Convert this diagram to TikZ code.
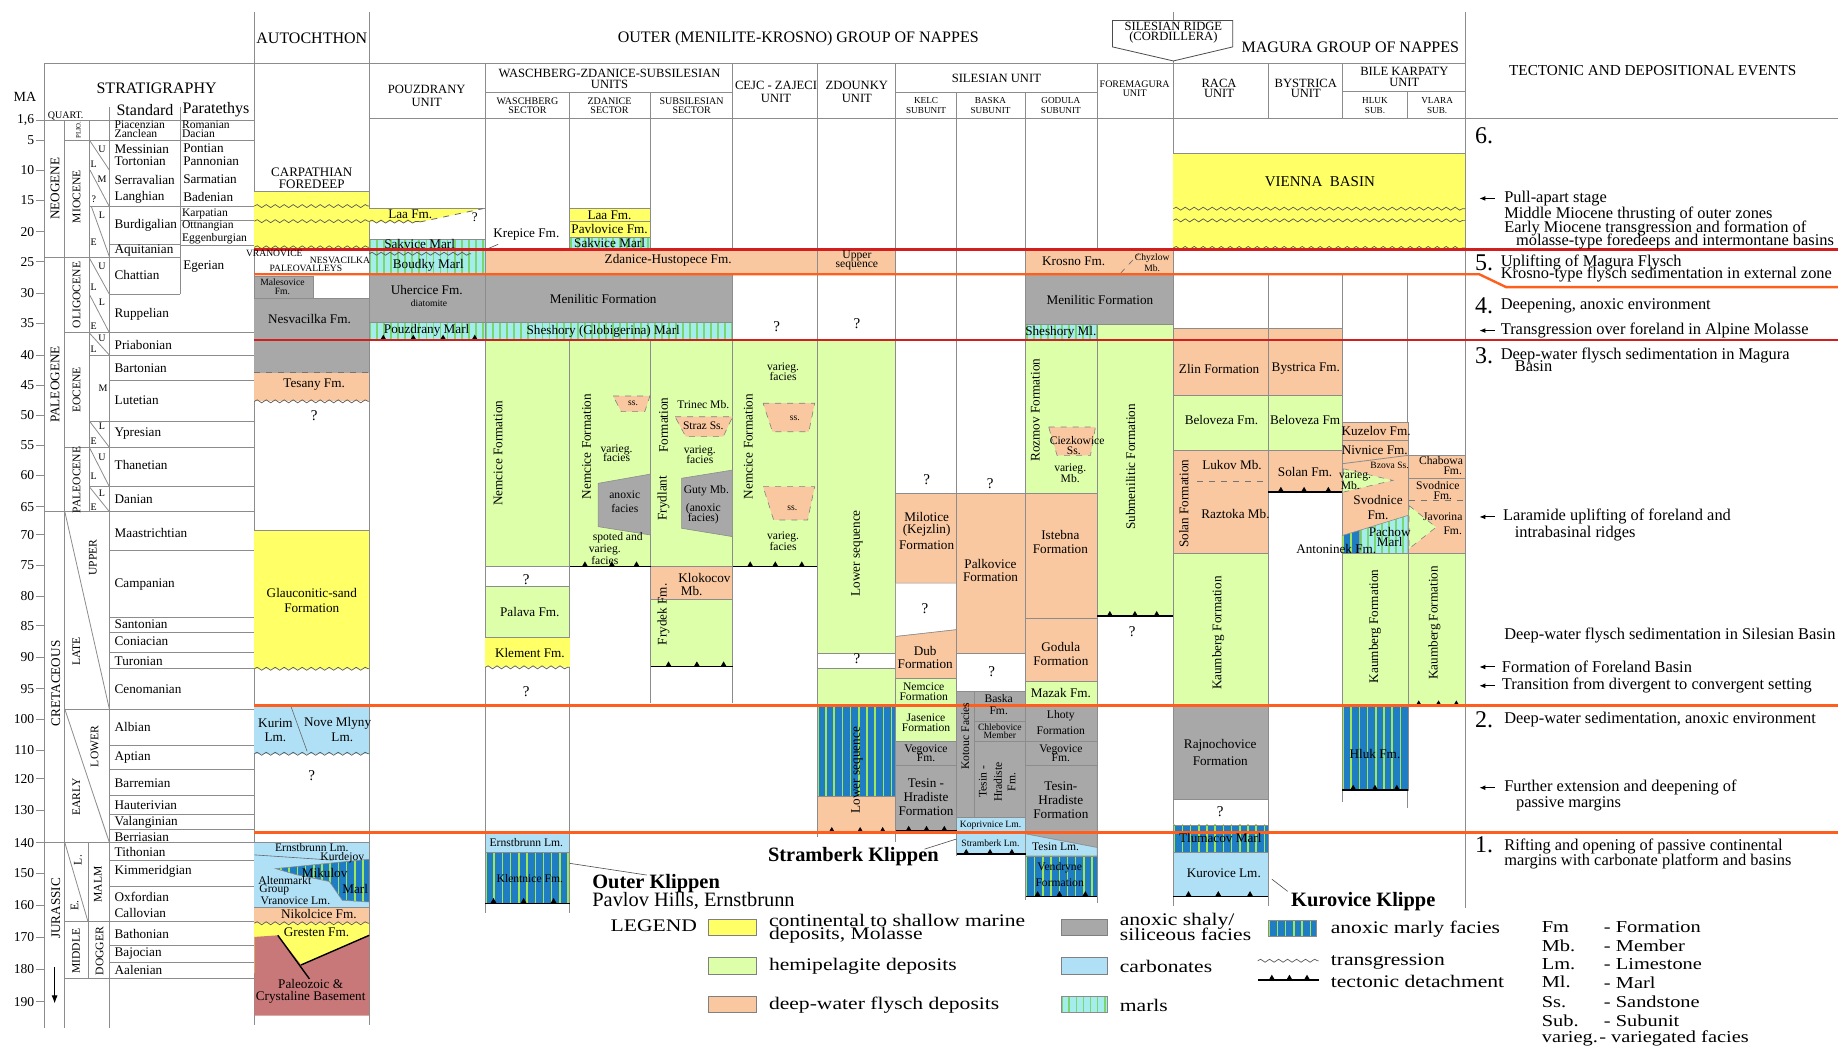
\documentclass[tikz,border=0pt]{standalone}
\usepackage{fontspec}
\setmainfont{Liberation Serif}
\usetikzlibrary{decorations.pathmorphing,arrows.meta}
\definecolor{cyel}{RGB}{255,255,102}
\definecolor{cgrn}{RGB}{222,255,170}
\definecolor{cpch}{RGB}{250,200,160}
\definecolor{cgry}{RGB}{168,168,168}
\definecolor{ccarb}{RGB}{176,224,245}
\definecolor{cmarl}{RGB}{165,236,236}
\definecolor{cmarlS}{RGB}{120,215,110}
\definecolor{canox}{RGB}{30,125,195}
\definecolor{canoxS}{RGB}{160,230,90}
\definecolor{cbase}{RGB}{200,120,120}
\definecolor{cred}{RGB}{210,30,30}
\definecolor{corg}{RGB}{255,95,30}
\definecolor{cline}{RGB}{140,140,140}
\newcommand\fA{\fontsize{6.6}{6.6}\selectfont}
\newcommand\fB{\fontsize{5.8}{5.8}\selectfont}
\newcommand\fC{\fontsize{4.8}{4.8}\selectfont}
\newcommand\fE{\fontsize{8.2}{8.2}\selectfont}
\newcommand\fH{\fontsize{8}{8}\selectfont}
\newcommand\fU{\fontsize{6.3}{6.3}\selectfont}
\newcommand\fS{\fontsize{5}{5}\selectfont}
\newcommand\fL{\fontsize{10.8}{10.8}\selectfont}
\newcommand\fM{\fontsize{10.2}{10.2}\selectfont}
\newcommand\fK{\fontsize{10.2}{10.2}\selectfont}
\newcommand\fN{\fontsize{12}{12}\selectfont}
\newcommand\sqz[1]{\scalebox{1}[0.82]{#1}}
\newcommand\mybx[5]{\filldraw[fill=#1,draw=cline,line width=0.3pt] (#2,#3) rectangle (#4,#5);}
\newcommand\mystrip[6]{\begin{scope}\clip #1; \fill[#2] #1; \foreach \xx in {0,#5,...,300}{\fill[#3] (#4+\xx,0) rectangle (#4+\xx+#6,900);}\end{scope}\draw[cline,line width=0.3pt] #1;}
\newcommand\mydet[4]{\draw[line width=0.8pt] (#1,#3) -- (#2,#3); \foreach \tx in {#4}{\fill (\tx-2.6,#3) -- (\tx,#3-4.5) -- (\tx+2.6,#3) -- cycle;}}
\tikzset{wavy/.style={decorate,decoration={snake,amplitude=0.75pt,segment length=4.5pt},draw=black!65,line width=0.35pt},
  tx/.style={inner sep=0pt,align=center,font=\fA},
  ev/.style={inner sep=0pt,anchor=west,font=\fE},
  sn/.style={inner sep=0pt,anchor=west,font=\fA},
  hd/.style={inner sep=0pt,align=center,font=\fU},
  lg/.style={inner sep=0pt,anchor=west,font=\fL},
  swatch/.style={draw=gray,line width=0.4pt},
  evarrow/.style={-{Latex[length=3pt,width=2.4pt]},line width=0.5pt}}
\newcommand\mywave[3]{\draw[wavy] (#1,#3) -- (#2,#3);}
\begin{document}
\begin{tikzpicture}[x=0.5861pt,y=-0.5861pt]
\useasboundingbox (0,0) rectangle (1568,894);
\fill[white] (0,0) rectangle (1568,894);

%% ---------------- header lines and column lines
\draw[cline,line width=0.4pt] (37.8,54) -- (1250,54);
\draw[cline,line width=0.4pt] (315,101) -- (1568,101);
\draw[cline,line width=0.4pt] (414,79) -- (625,79);
\draw[cline,line width=0.4pt] (764,79) -- (936,79);
\draw[cline,line width=0.4pt] (1145,78) -- (1250,78);
\foreach \cx/\ya/\yb in {217/10/874,315/10/874,414/54/779,486/79/779,555/79/600,625/54/600,697/54/714,764/54/718,816/79/730,875/79/768,936/54/770,1001/10/773,1082/234/773,1145/234/684,1201/234/689,1250/10/775,1082/54/101,1145/54/101,1201/78/101}
  \draw[cline,line width=0.4pt] (\cx,\ya) -- (\cx,\yb);

%% ---------------- stratigraphy column
\draw[cline] (37.8,54) -- (37.8,877);
\draw[cline] (55.3,102.4) -- (55.3,877);
\draw[cline] (76.2,102.4) -- (76.2,436.5);
\draw[cline] (75,718.8) -- (75,834.6);
\draw[cline] (93.3,91) -- (93.3,877);
\draw[cline] (153.5,91) -- (153.5,251.1);
\draw[cline] (31,102.4) -- (217,102.4);
\draw[cline] (55.3,119.4) -- (217,119.4);
\draw[cline] (76.2,176.3) -- (217,176.3);
\draw[cline] (93.3,208.4) -- (153.5,208.4);
\draw[cline] (153.5,187.7) -- (217,187.7);
\draw[cline] (153.5,209.6) -- (217,209.6);
\draw[cline] (37.8,219.8) -- (153.5,219.8);
\draw[cline] (93.3,251.1) -- (153.5,251.1);
\foreach \yy/\xa in {283.8/55.3,302.9/76.2,324.7/93.3,359.1/76.2,381.6/55.3,415.2/76.2,436.5/37.8,469.2/93.3,526.4/93.3,539.3/93.3,556.9/93.3,570.6/93.3,604.9/55.3,635.9/93.3,656.2/93.3,678.6/93.3,695/93.3,707.8/93.3,718.8/37.8,733.8/93.3,756.1/93.3,786/55.3,806.8/93.3,820.9/93.3,834.6/55.3}
  \draw[cline] (\xa,\yy) -- (217,\yy);
% sub-epoch diagonals
\foreach \xa/\ya/\xb/\yb in {76.8/120.3/93.3/145.1,76.8/145.1/93.3/176.3,78/176.3/93.3/219,76.2/220/93.3/251,76.2/251/93.3/283.8,76.2/284/93.3/302.9,76.2/359.1/93.3/381.6,76.2/381.6/93.3/415.2,76.2/415.2/93.3/436.5,55.3/436.5/93.3/604.9,55.3/604.9/93.3/718.8,55.3/718.8/75/786}
  \draw[cline] (\xa,\ya) -- (\xb,\yb);
\foreach \lt/\xx/\yy in {U/87/127,L/80/140,M/87/153,?/80/170,L/87/184,E/80/207,U/87/227,L/80/245,L/87/258,E/80/278,U/87/289,L/80/298,M/88/331,L/87/364,E/80/376,U/87/390,L/80/406,L/87/421,E/80/433}
  \node[inner sep=0pt,font=\fS] at (\xx,\yy) {\lt};
% era / epoch labels
\node[tx,rotate=90,font=\fA] at (46.9,161) {NEOGENE};
\node[tx,rotate=90,font=\fA] at (46.9,328) {PALEOGENE};
\node[tx,rotate=90,font=\fA] at (47.6,583) {CRETACEOUS};
\node[tx,rotate=90,font=\fA] at (47.6,775) {JURASSIC};
\node[tx,rotate=90,font=\fB] at (65.4,167.8) {MIOCENE};
\node[tx,rotate=90,font=\fB] at (65.4,251.7) {OLIGOCENE};
\node[tx,rotate=90,font=\fB] at (65.4,332.7) {EOCENE};
\node[tx,rotate=90,font=\fB] at (65.4,409.5) {PALEOCENE};
\node[tx,rotate=90,font=\fontsize{3.4}{3.4}\selectfont] at (67,111) {PLIO.};
\node[tx,rotate=90,font=\fB] at (79.3,475.7) {UPPER};
\node[tx,rotate=90,font=\fB] at (65,556) {LATE};
\node[tx,rotate=90,font=\fB] at (80.7,636.8) {LOWER};
\node[tx,rotate=90,font=\fB] at (65,680) {EARLY};
\node[tx,rotate=90,font=\fB] at (66.5,733.7) {L.};
\node[tx,rotate=90,font=\fB] at (63.6,772.5) {E.};
\node[tx,rotate=90,font=\fB] at (65,811.3) {MIDDLE};
\node[tx,rotate=90,font=\fB] at (83.5,754.6) {MALM};
\node[tx,rotate=90,font=\fB] at (85,811.3) {DOGGER};
\draw[-{Latex[length=4pt,width=3pt]},line width=0.4pt] (46.6,825) -- (46.6,856);
% header of strat
\node[inner sep=0pt,font=\fontsize{7}{7}\selectfont] at (21.3,82.5) {MA};
\node[inner sep=0pt,font=\fH] at (133.6,75.4) {STRATIGRAPHY};
\node[inner sep=0pt,font=\fH] at (123.7,93.8) {Standard};
\node[inner sep=0pt,font=\fH] at (184.3,93.8) {Paratethys};
\node[inner sep=0pt,font=\fontsize{5}{5}\selectfont] at (56,99) {QUART.};
% ticks
\draw[cline] (31,102.4) -- (37.8,102.4);
\node[anchor=east,inner sep=0pt,font=\fontsize{6.8}{6.8}\selectfont] at (29.5,102.4) {1,6};
\foreach \lab/\yy in {5/119.4,10/145,15/170.6,20/197.6,25/223.2,30/250.2,35/275.8,40/302.8,45/328.4,50/354,55/379.6,60/405.2,65/432.2,70/456.3,75/482.3,80/508.5,85/533.9,90/560.7,95/587.6,100/613.8,110/639.8,120/664.2,130/691.4,140/718.8,150/745.1,160/772.5,170/799.4,180/827.1,190/854.6}
  {\draw[cline] (31,\yy) -- (37.8,\yy); \node[anchor=east,inner sep=0pt,font=\fontsize{6.8}{6.8}\selectfont] at (29.5,\yy) {\lab};}
% stage names
\foreach \nm/\yy in {Messinian/127.4,Tortonian/137.9,Serravalian/153.6,Langhian/168.3,Burdigalian/192.5,Aquitanian/214.1,Chattian/234.6,Ruppelian/268.2,Priabonian/294.3,Bartonian/314.2,Lutetian/341.2,Ypresian/369.7,Thanetian/396.7,Danian/426,Maastrichtian/454.8,Campanian/499,Santonian/532.4,Coniacian/547.3,Turonian/563.7,Cenomanian/587.6,Albian/619.8,Aptian/646.3,Barremian/668.1,Hauterivian/686.6,Valanginian/701.5,Berriasian/714.4,Tithonian/726.9,Kimmeridgian/743.3,Oxfordian/765,Callovian/779.1,Bathonian/796.4,Bajocian/813.7,Aalenian/827.7}
  \node[sn] at (97.5,\yy) {\nm};
\foreach \nm/\yy in {Piacenzian/106.6,Zanclean/113.8}
  \node[sn,font=\fB] at (97.5,\yy) {\nm};
\foreach \nm/\yy in {Pontian/126.5,Pannonian/137.9,Sarmatian/152.7,Badenian/168.3,Egerian/227.5}
  \node[sn] at (156,\yy) {\nm};
\foreach \nm/\yy in {Romanian/106.6,Dacian/113.8,Karpatian/182.9,Ottnangian/192.5,Eggenburgian/203.3}
  \node[sn,font=\fB] at (155,\yy) {\nm};

%% ---------------- AUTOCHTHON
\fill[cyel] (217,163) rectangle (315,211.5); \draw[cline] (217,163) -- (315,163);
\mywave{217}{315}{175.8}\mywave{217}{315}{188.7}\mywave{217}{315}{211}
\mybx{cgry}{217}{235.6}{267}{254.7}
\fill[cgry] (217,254.7) rectangle (315,318); \draw[cline] (217,254.7) -- (315,254.7);
\draw[dashed,black!55] (217,318) -- (315,318);
\fill[cpch] (217,318) rectangle (315,342.4); \mywave{217}{315}{342.4}
\fill[cyel] (217,452.4) rectangle (315,570.5); \draw[cline] (217,452.4) -- (315,452.4); \mywave{217}{315}{570.5}
\fill[ccarb] (217,602) rectangle (315,643); \mywave{217}{315}{643}
\draw[black!60,line width=0.3pt] (248,602) -- (262,641);
\fill[ccarb] (217,718.8) rectangle (315,774); \draw[cline] (217,718.8) -- (315,718.8);
\mystrip{(235,741) -- (315,733) -- (315,769.5) -- (292,768) -- (281,752) -- (252,746) -- cycle}{canox}{canoxS}{232}{7}{1.3}
\draw[black!60,line width=0.3pt] (217,729.3) -- (284,733.8);
\fill[cpch] (217,774) rectangle (315,787.6); \draw[cline] (217,774) -- (315,774);
\fill[cyel] (217,787.6) rectangle (315,830);
\mywave{217}{315}{787.6}
\fill[cbase] (217,799.3) -- (237,797.9) -- (257,823.2) -- (315,797.9) -- (315,866.5) -- (217,866.5) -- cycle;
\draw[line width=0.7pt] (237,797.9) -- (264,835.1);
\draw[line width=0.7pt] (256.8,823.2) -- (315,797.9);

%% ---------------- POUZDRANY
\fill[cyel] (315,178) -- (412,178) -- (358,189.4) -- (315,189.4) -- cycle;
\draw[cline] (315,178) -- (414,178);
\draw[dashed,black!60] (358,189.4) -- (412,178);
\mywave{315}{358}{189}
\mystrip{(315,204) rectangle (414,212.5)}{cmarl}{cmarlS}{315}{6}{1.6}
\mystrip{(315,212.5) rectangle (414,234)}{cmarl}{cmarlS}{315}{6}{1.6}
\mywave{315}{402}{216.5}
\mybx{cgry}{315}{234}{414}{275}
\mystrip{(315,275) rectangle (414,290)}{cmarl}{cmarlS}{315}{6}{1.6}

%% ---------------- WASCHBERG-ZDANICE-SUBSILESIAN, CEJC, ZDOUNKY
\mybx{cyel}{486}{177.7}{555}{189}
\mybx{cyel}{486}{189}{555}{202.4}
\mystrip{(486,202.4) rectangle (555,212.5)}{cmarl}{cmarlS}{486}{6}{1.6}
\mybx{cpch}{414}{212.5}{697}{234}
\mybx{cpch}{697}{212.5}{764}{234}
\mybx{cgry}{414}{234}{625}{275}
\mystrip{(414,275) rectangle (625,290)}{cmarl}{cmarlS}{414}{6}{1.6}
\mybx{cgrn}{414}{290}{486}{483.4}
\mybx{cgrn}{486}{290}{555}{483.4}
\mybx{cgrn}{555}{290}{625}{483.4}
\mybx{cgrn}{625}{290}{697}{483.4}
\mybx{cgrn}{697}{290}{764}{557.3}
\mybx{cgrn}{697}{570}{764}{602}
\mystrip{(697,602) rectangle (764,679.6)}{canox}{canoxS}{697}{7}{1.3}
\mybx{cpch}{697}{679.6}{764}{710}
% sandstone lenses and anoxic facies
\filldraw[fill=cpch,draw=gray,dashed,line width=0.3pt] (523,337.8) -- (554.5,337.8) -- (550,351.2) -- (530,351.2) -- cycle;
\filldraw[fill=cgry,draw=cline,line width=0.3pt] (510.4,412.3) -- (555,404.4) -- (555,456.4) -- (510.4,449.3) -- cycle;
\filldraw[fill=cpch,draw=gray,dashed,line width=0.3pt] (575.9,355.5) -- (625,355.5) -- (617,372.5) -- (585,372.5) -- cycle;
\filldraw[fill=cgry,draw=cline,line width=0.3pt] (581.5,408) -- (625,401) -- (625,457.8) -- (581.5,450.7) -- cycle;
\filldraw[fill=cpch,draw=gray,dashed,line width=0.3pt] (651,344) -- (695,344) -- (690,368.3) -- (659,368.3) -- cycle;
\filldraw[fill=cpch,draw=gray,dashed,line width=0.3pt] (651,415.2) -- (695,415.2) -- (689,443.6) -- (660,443.6) -- cycle;
% waschberg lower
\mybx{cgrn}{414}{500.5}{486}{543.7}
\fill[cyel] (414,543.7) rectangle (486,569.3); \draw[cline] (414,543.7) -- (486,543.7); \mywave{414}{486}{569.3}
\mybx{cpch}{555}{483.4}{625}{511.3}
\mybx{cgrn}{555}{511.3}{625}{568.7}
% Outer klippen
\mybx{ccarb}{414}{711}{486}{727.4}
\mystrip{(414,727.4) rectangle (486,770.6)}{canox}{canoxS}{414}{7}{1.3}

%% ---------------- SILESIAN
% Kelc
\mybx{cpch}{764}{421}{816}{497.5}
\filldraw[fill=white,draw=cline,line width=0.3pt] (764,497.5) -- (816,497.5) -- (816,537.2) -- (764,543) -- cycle;
\filldraw[fill=cpch,draw=cline,line width=0.3pt] (764,543) -- (816,537.2) -- (816,579) -- (764,579) -- cycle;
\mybx{cgrn}{764}{579}{816}{602}
\mybx{cgrn}{764}{602}{816}{632.2}
\mybx{cgry}{764}{632.2}{816}{653}
\mybx{cgry}{764}{653}{816}{709}
% Baska
\mybx{cpch}{816}{421}{875}{557.4}
\mybx{white}{816}{557.4}{875}{589.6}
\mybx{cgry}{816}{589.6}{831}{697}
\mybx{cgry}{831}{589.6}{875}{615}
\mybx{cgry}{831}{615}{875}{632}
\mybx{cgry}{831}{632}{875}{697}
\mybx{ccarb}{816}{697}{875}{710}
\mybx{ccarb}{816}{710}{875}{728.7}
% Godula + Foremagura
\mybx{cpch}{875}{212.5}{1001}{234}
\draw[dashed,black!60,line width=0.3pt] (956,233) -- (971.6,216.4);
\mybx{cgry}{875}{234}{1001}{276.7}
\mystrip{(875,276.7) rectangle (936,290)}{cmarl}{cmarlS}{875}{6}{1.6}
\mybx{cgrn}{875}{290}{936}{421.2}
\mybx{cgrn}{936}{276.7}{1001}{525.7}
\filldraw[fill=cpch,draw=gray,dashed,line width=0.3pt] (894.6,364.3) -- (934.5,364.3) -- (930.3,388.5) -- (901.8,388.5) -- cycle;
\mybx{cpch}{875}{421.2}{936}{527.1}
\mybx{cpch}{875}{527.1}{936}{581}
\mybx{cgrn}{875}{581}{936}{602}
\mybx{cgry}{875}{602}{936}{632.2}
\mybx{cgry}{875}{632.2}{936}{653}
\filldraw[fill=cgry,draw=cline,line width=0.3pt] (875,653) -- (936,653) -- (936,723) -- (875,711.4) -- cycle;
\filldraw[fill=ccarb,draw=cline,line width=0.3pt] (875,711.4) -- (936,723) -- (936,730.2) -- (875,730.2) -- cycle;
\mystrip{(875,730.2) rectangle (936,764.7)}{canox}{canoxS}{875}{7}{1.3}

%% ---------------- MAGURA
\fill[cyel] (1001,131) rectangle (1250,212.5); \draw[cline] (1001,131) -- (1250,131);
\mywave{1001}{1250}{178}\mywave{1001}{1250}{188}\mywave{1001}{1250}{211.5}
\mybx{cpch}{1001}{280.4}{1082}{337.3}
\mybx{cpch}{1082}{280.4}{1145}{337.3}
\mybx{cgrn}{1001}{337.3}{1082}{384.2}
\mybx{cgrn}{1082}{337.3}{1145}{384.2}
\mybx{cpch}{1001}{384.2}{1082}{472.4}
\draw[dashed,black!55,line width=0.3pt] (1021.4,410.6) -- (1082,410.6);
\mybx{cpch}{1082}{384.2}{1145}{419.8}
\mybx{cgrn}{1001}{472.4}{1082}{602}
\mybx{cgry}{1001}{602}{1082}{681.8}
\mybx{white}{1001}{681.8}{1082}{703.7}
\mystrip{(1001,703.7) rectangle (1082,726.7)}{canox}{canoxS}{1001}{7}{1.3}
\mybx{ccarb}{1001}{726.7}{1082}{764.7}
% Hluk
\mybx{cpch}{1145}{360}{1201}{472.4}
\draw[cline] (1145,375.7) -- (1201,375.7);
\draw[cline] (1145,395.6) -- (1201,388.5);
\filldraw[fill=cgrn,draw=gray,dashed,line width=0.3pt] (1145.9,399.9) -- (1188.3,409.8) -- (1145.9,419.8) -- cycle;
\mystrip{(1160,452.4) -- (1201,439.7) -- (1201,472.4) -- (1160,472.4) -- cycle}{cmarl}{cmarlS}{1160}{6}{1.6}
\mystrip{(1145,456.9) -- (1160,452.4) -- (1160,472.4) -- (1145,472.4) -- cycle}{canox}{canoxS}{1145}{7}{1.3}
\mybx{cgrn}{1145}{472.4}{1201}{602}
\mystrip{(1145,602) rectangle (1201,674)}{canox}{canoxS}{1145}{7}{1.3}
% Vlara
\mybx{cpch}{1201}{388.5}{1250}{472.4}
\draw[cline] (1201,408.4) -- (1250,408.4);
\draw[dashed,black!55,line width=0.3pt] (1202,426.9) -- (1250,426.9);
\filldraw[fill=cgrn,draw=gray,dashed,line width=0.3pt] (1202,431.3) -- (1225.1,449.8) -- (1202,468.1) -- cycle;
\mybx{cgrn}{1201}{472.4}{1250}{602}

%% ---------------- tectonic detachments
\mydet{315}{414}{290}{327,352.6,378,405}
\mydet{486}{555}{483.4}{499,522,543}
\mydet{625}{697}{483.4}{640,661.4,684}
\mydet{555}{625}{568.7}{570.3,594.5,617.3}
\mydet{414}{486}{770.6}{421,446.7,472.3}
\mydet{697}{764}{710}{709.6,733.8,753}
\mydet{764}{816}{709}{775.2,790.4,805.6}
\mydet{816}{875}{728.7}{824.3,844.6,863.2}
\mydet{875}{936}{764.7}{885.2,903.8,925.9}
\mydet{936}{1001}{525.7}{946.8,968.2,986.8}
\mydet{1001}{1082}{764.7}{1013.9,1039.3,1066.4}
\mydet{1082}{1145}{419.8}{1092.7,1112.5,1133.2}
\mydet{1145}{1201}{674}{1154.4,1173,1191.6}
\mydet{1201}{1250}{602}{1210.3,1227.2,1242.4}

%% ---------------- event boundary lines
\draw[cred,line width=1.2pt] (217,213) -- (1568,213);
\draw[corg,line width=1.2pt] (217,234) -- (1262,234) -- (1285,245) -- (1568,245);
\draw[cred,line width=1.2pt] (217,290) -- (1568,290);
\draw[corg,line width=1.3pt] (217,602) -- (1568,602);
\draw[corg,line width=1.3pt] (217,710) -- (1568,710);

%% ---------------- headers
\filldraw[fill=white,draw=black!70,line width=0.4pt] (949,17.5) -- (1051.7,17.5) -- (1051.7,40) -- (1001,52) -- (949,40) -- cycle;
\node[hd] at (1001,22.5) {SILESIAN RIDGE};
\node[hd] at (1001,32) {(CORDILLERA)};
\node[inner sep=0pt,font=\fH] at (266,33) {AUTOCHTHON};
\node[inner sep=0pt,font=\fH] at (681,33) {OUTER (MENILITE-KROSNO) GROUP OF NAPPES};
\node[inner sep=0pt,font=\fH] at (1152,40) {MAGURA GROUP OF NAPPES};
\node[inner sep=0pt,font=\fontsize{7.6}{7.6}\selectfont] at (1410,60) {TECTONIC AND DEPOSITIONAL EVENTS};
\node[hd] at (364,76) {POUZDRANY}; \node[hd] at (364,87) {UNIT};
\node[hd] at (520,63) {WASCHBERG-ZDANICE-SUBSILESIAN}; \node[hd] at (520,72) {UNITS};
\node[hd] at (662,73) {CEJC - ZAJECI}; \node[hd] at (662,84) {UNIT};
\node[hd] at (731,73) {ZDOUNKY}; \node[hd] at (731,84) {UNIT};
\node[hd] at (850,67) {SILESIAN UNIT};
\node[hd,font=\fS] at (968,72) {FOREMAGURA}; \node[hd,font=\fS] at (968,80) {UNIT};
\node[hd] at (1040,71) {RACA}; \node[hd] at (1040,80) {UNIT};
\node[hd] at (1114,71) {BYSTRICA}; \node[hd] at (1114,80) {UNIT};
\node[hd] at (1198,61) {BILE KARPATY}; \node[hd] at (1198,70) {UNIT};
\foreach \nm/\sub/\xx in {WASCHBERG/SECTOR/450,ZDANICE/SECTOR/520,SUBSILESIAN/SECTOR/590}
  {\node[hd,font=\fS] at (\xx,86) {\nm}; \node[hd,font=\fS] at (\xx,94) {\sub};}
\foreach \nm/\sub/\xx in {KELC/SUBUNIT/790,BASKA/SUBUNIT/845,GODULA/SUBUNIT/905,HLUK/SUB./1173,VLARA/SUB./1226}
  {\node[hd,font=\fontsize{4.6}{4.6}\selectfont] at (\xx,86) {\nm}; \node[hd,font=\fontsize{4.6}{4.6}\selectfont] at (\xx,94) {\sub};}

%% ---------------- texts: autochthon
\node[hd,font=\fontsize{6.5}{6.5}\selectfont] at (266,146.7) {CARPATHIAN};
\node[hd,font=\fontsize{6.5}{6.5}\selectfont] at (266,157.4) {FOREDEEP};
\node[tx,font=\fC] at (234,216.5) {VRANOVICE};
\node[tx,font=\fC] at (290,222) {NESVACILKA};
\node[tx,font=\fC] at (261,229) {PALEOVALLEYS};
\node[tx,font=\fC] at (241,240.5) {Malesovice};
\node[tx,font=\fC] at (241,248.6) {Fm.};
\node[tx] at (264,272) {Nesvacilka Fm.};
\node[tx] at (268,328) {Tesany Fm.};
\node[tx,font=\fontsize{7.5}{7.5}\selectfont] at (268,355) {?};
\node[tx] at (266,506) {Glauconitic-sand};
\node[tx] at (266,519) {Formation};
\node[tx] at (235,617) {Kurim}; \node[tx] at (235,629) {Lm.};
\node[tx] at (288,617) {Nove Mlyny}; \node[tx] at (292,629) {Lm.};
\node[tx,font=\fontsize{7.5}{7.5}\selectfont] at (266,662) {?};
\node[tx,font=\fB] at (266,723) {Ernstbrunn Lm.};
\node[tx,font=\fB] at (292,731.5) {Kurdejov};
\node[tx] at (277,744.5) {Mikulov};
\node[tx] at (303,758) {Marl};
\node[tx,font=\fB] at (243,751.5) {Altenmarkt};
\node[tx,font=\fB] at (234,759.5) {Group};
\node[tx,font=\fB] at (252,768) {Vranovice Lm.};
\node[tx] at (272,780) {Nikolcice Fm.};
\node[tx] at (270,795) {Gresten Fm.};
\node[tx] at (265,839.5) {Paleozoic \&};
\node[tx] at (265,851) {Crystaline Basement};

%% texts: pouzdrany & waschberg
\node[tx] at (350,182.5) {Laa Fm.};
\node[tx] at (405,185) {?};
\node[tx] at (358,207.8) {Sakvice Marl};
\node[tx] at (365.4,226.6) {Boudky Marl};
\node[tx] at (364,247.4) {Uhercice Fm.};
\node[tx,font=\fC] at (366,259) {diatomite};
\node[tx] at (364,282) {Pouzdrany Marl};
\node[tx] (krep) at (449,200.5) {Krepice Fm.};
\draw[black!70,line width=0.3pt] (416.6,212) -- (425,208.4);
\node[tx] at (520,183.3) {Laa Fm.};
\node[tx] at (520,195.7) {Pavlovice Fm.};
\node[tx] at (520,207.4) {Sakvice Marl};
\node[tx] at (570,222.5) {Zdanice-Hustopece Fm.};
\node[tx,font=\fB] at (731,218) {Upper};
\node[tx,font=\fB] at (731,227) {sequence};
\node[tx] at (514.6,255) {Menilitic Formation};
\node[tx] at (514.6,282.6) {Sheshory (Globigerina) Marl};
\node[tx,font=\fontsize{7.5}{7.5}\selectfont] at (662.5,278.7) {?};
\node[tx,font=\fontsize{7.5}{7.5}\selectfont] at (731,276.5) {?};
\node[tx,rotate=90] at (425,386.7) {Nemcice Formation};
\node[tx,font=\fontsize{7.5}{7.5}\selectfont] at (449,494.8) {?};
\node[tx] at (452,521.8) {Palava Fm.};
\node[tx] at (452,557.3) {Klement Fm.};
\node[tx,font=\fontsize{7.5}{7.5}\selectfont] at (449,590) {?};
\node[tx,rotate=90] at (500.5,381) {Nemcice Formation};
\node[tx,font=\fC] at (540,344) {ss.};
\node[tx,font=\fB] at (526,384) {varieg.}; \node[tx,font=\fB] at (526,390.5) {facies};
\node[tx,font=\fB] at (533,422.3) {anoxic}; \node[tx,font=\fB] at (533,434) {facies};
\node[tx,font=\fB] at (527,459) {spoted and}; \node[tx,font=\fB] at (516,469) {varieg.}; \node[tx,font=\fB] at (516,478) {facies};
\node[tx,rotate=90] at (566,362.6) {Formation};
\node[tx,rotate=90] at (566,425) {Frydlant};
\node[tx,font=\fB] at (600,345.5) {Trinec Mb.};
\node[tx,font=\fB] at (600,363) {Straz Ss.};
\node[tx,font=\fB] at (597,385) {varieg.}; \node[tx,font=\fB] at (597,392) {facies};
\node[tx,font=\fB] at (602.6,418.4) {Guty Mb.};
\node[tx,font=\fB] at (600,434) {(anoxic}; \node[tx,font=\fB] at (600,442.5) {facies)};
\node[tx] at (601,493.4) {Klokocov}; \node[tx] at (590,503.9) {Mb.};
\node[tx,rotate=90] at (566,524) {Frydek Fm.};
\node[tx,rotate=90] at (638.4,381) {Nemcice Formation};
\node[tx,font=\fB] at (668,314) {varieg.}; \node[tx,font=\fB] at (668,321.4) {facies};
\node[tx,font=\fC] at (678,357) {ss.};
\node[tx,font=\fC] at (676,433.6) {ss.};
\node[tx,font=\fB] at (668,458) {varieg.}; \node[tx,font=\fB] at (668,466) {facies};
\node[tx,rotate=90] at (731,472) {Lower sequence};
\node[tx,font=\fontsize{7.5}{7.5}\selectfont] at (731,562) {?};
\node[tx,rotate=90] at (731,657) {Lower sequence};
\node[tx,font=\fB] at (449,718.5) {Ernstbrunn Lm.};
\node[tx,font=\fB] at (452,749.3) {Klentnice Fm.};
\node[inner sep=0pt,anchor=west,font=\fK\bfseries] (okl) at (505,754) {Outer Klippen};
\node[inner sep=0pt,anchor=west,font=\fK] at (505,768.5) {Pavlov Hills, Ernstbrunn};
\coordinate (oklA) at (486,736.5);
\coordinate (oklB) at (551.7,746.5);
\draw[black!70,line width=0.3pt] (oklA) -- (oklB);

%% texts: silesian
\node[tx,font=\fontsize{7.5}{7.5}\selectfont] at (790.5,409.5) {?};
\node[tx] at (790.5,440.8) {Milotice}; \node[tx] at (790.5,452.7) {(Kejzlin)}; \node[tx] at (790.5,465) {Formation};
\node[tx,font=\fontsize{7.5}{7.5}\selectfont] at (789,519) {?};
\node[tx] at (789.3,555) {Dub}; \node[tx] at (789.3,567) {Formation};
\node[tx,font=\fB] at (788,586) {Nemcice}; \node[tx,font=\fB] at (788,594.5) {Formation};
\node[tx,font=\fB] at (790,612) {Jasenice}; \node[tx,font=\fB] at (790,621) {Formation};
\node[tx,font=\fB] at (790,639.4) {Vegovice}; \node[tx,font=\fB] at (790,646.6) {Fm.};
\node[tx] at (790,668) {Tesin -}; \node[tx] at (790,680) {Hradiste}; \node[tx] at (790,692) {Formation};
\node[tx,font=\fontsize{7.5}{7.5}\selectfont] at (844.7,412.7) {?};
\node[tx] at (845,481) {Palkovice}; \node[tx] at (845,492.3) {Formation};
\node[tx,font=\fontsize{7.5}{7.5}\selectfont] at (846,573) {?};
\node[tx,font=\fB] at (852,596) {Baska}; \node[tx,font=\fB] at (852,606) {Fm.};
\node[tx,font=\fB,rotate=90] at (823.6,628) {Kotouc Facies};
\node[tx,font=\fC] at (853,620.5) {Chlebovice}; \node[tx,font=\fC] at (853,627.5) {Member};
\node[tx,font=\fB,rotate=90] at (838.5,667) {Tesin -};
\node[tx,font=\fB,rotate=90] at (851.3,667) {Hradiste};
\node[tx,font=\fB,rotate=90] at (863,667) {Fm.};
\node[tx,font=\fC] at (845,704) {Koprivnice Lm.};
\node[tx,font=\fC] at (845,719) {Stramberk Lm.};
\node[inner sep=0pt,font=\fK\bfseries] (skl) at (728,731) {Stramberk Klippen};
\coordinate (sklA) at (815.8,715.8);
\coordinate (sklB) at (788.7,724.4);
\draw[black!70,line width=0.3pt] (sklA) -- (sklB);
\node[tx] at (916,222.7) {Krosno Fm.};
\node[tx,font=\fC] at (983,220.5) {Chyzlow}; \node[tx,font=\fC] at (983,228.5) {Mb.};
\node[tx] at (938.3,256.2) {Menilitic Formation};
\node[tx] at (905,283.2) {Sheshory Ml.};
\node[tx,rotate=90] at (883.2,350) {Rozmov Formation};
\node[tx,font=\fB] at (918.9,376.2) {Ciezkowice}; \node[tx,font=\fB] at (916,384.2) {Ss.};
\node[tx,font=\fB] at (913,399.8) {varieg.}; \node[tx,font=\fB] at (913,408.4) {Mb.};
\node[tx] at (904.6,456.7) {Istebna}; \node[tx] at (904.6,468.1) {Formation};
\node[tx] at (905,552.2) {Godula}; \node[tx] at (905,563.7) {Formation};
\node[tx] at (905,591.3) {Mazak Fm.};
\node[tx,font=\fB] at (905,610.6) {Lhoty}; \node[tx,font=\fB] at (905,623) {Formation};
\node[tx,font=\fB] at (905,639.4) {Vegovice}; \node[tx,font=\fB] at (905,646.6) {Fm.};
\node[tx] at (905,671) {Tesin-}; \node[tx] at (905,682.6) {Hradiste}; \node[tx] at (905,694.2) {Formation};
\node[tx,font=\fB] at (900.5,722) {Tesin Lm.};
\node[tx,font=\fB] at (904,740) {Vendryne}; \node[tx,font=\fB] at (904,753) {Formation};
\node[tx,rotate=90] at (964.5,398.4) {Submenilitic Formation};
\node[tx,font=\fontsize{7.5}{7.5}\selectfont] at (965.8,538.6) {?};

%% texts: magura
\node[inner sep=0pt,font=\fontsize{7.5}{7.5}\selectfont] at (1126,154.7) {VIENNA \ BASIN};
\node[tx] at (1040,314.5) {Zlin Formation};
\node[tx] at (1114,314.5) {Bystrica Fm.};
\node[tx] at (1042,358.6) {Beloveza Fm.};
\node[tx] at (1113.4,358.6) {Beloveza Fm};
\node[tx,rotate=90] at (1010,429.7) {Solan Formation};
\node[tx] at (1051,397) {Lukov Mb.};
\node[tx] at (1054,438.2) {Raztoka Mb.};
\node[tx] at (1113.4,402.7) {Solan Fm.};
\node[tx] at (1140,468) {Antoninek Fm.};
\node[tx,rotate=90] at (1039.3,540.1) {Kaumberg Formation};
\node[tx,rotate=90] at (1173,534.3) {Kaumberg Formation};
\node[tx,rotate=90] at (1223.8,531.4) {Kaumberg Formation};
\node[tx] at (1041,636) {Rajnochovice}; \node[tx] at (1041,649.5) {Formation};
\node[tx,font=\fontsize{7.5}{7.5}\selectfont] at (1041,692.7) {?};
\node[tx] at (1041,715.2) {Tlumacov Marl};
\node[tx] at (1044,745.1) {Kurovice Lm.};
\node[tx] at (1173,643.2) {Hluk Fm.};
\node[tx] at (1174,367.3) {Kuzelov Fm.};
\node[tx] at (1172.8,384) {Nivnice Fm.};
\node[tx,font=\fC] at (1185.5,397) {Bzova Ss.};
\node[tx,font=\fB] at (1156,405.7) {varieg.}; \node[tx,font=\fB] at (1152,414.5) {Mb.};
\node[tx] at (1175.6,426.9) {Svodnice}; \node[tx] at (1175.6,439.7) {Fm.};
\node[tx] at (1185.5,453.9) {Pachow}; \node[tx] at (1185.5,462.4) {Marl};
\node[tx,font=\fB] at (1229.4,392.7) {Chabowa}; \node[tx,font=\fB] at (1239.3,401.3) {Fm.};
\node[tx,font=\fB] at (1226.6,414) {Svodnice}; \node[tx,font=\fB] at (1230.8,422.6) {Fm.};
\node[tx,font=\fB] at (1230.8,441) {Javorina}; \node[tx,font=\fB] at (1239.3,452.5) {Fm.};
\node[inner sep=0pt,font=\fK\bfseries] (kkl) at (1163,769) {Kurovice Klippe};
\coordinate (kklA) at (1085,750);
\coordinate (kklB) at (1098.5,760.4);
\draw[black!70,line width=0.3pt] (kklA) -- (kklB);

%% ---------------- events
\foreach \nn/\yy in {6./116,5./224.3,4./260.6,3./303.6,2./614,1./721}
  \node[inner sep=0pt,font=\fN] at (1266,\yy) {\nn};
\foreach \yy [count=\i] in {169.3,282,441,569,585,672}
  {\coordinate (ea\i) at (1275,\yy); \coordinate (eb\i) at (1262,\yy); \draw[evarrow] (ea\i) -- (eb\i);}
\node[ev] at (1283,169.3) {Pull-apart stage};
\node[ev] at (1283,183.2) {Middle Miocene thrusting of outer zones};
\node[ev] at (1283,195.2) {Early Miocene transgression and formation of};
\node[ev] at (1293,205.9) {molasse-type foredeeps and intermontane basins};
\node[ev] at (1280,224.3) {Uplifting of Magura Flysch};
\node[ev] at (1280,234) {Krosno-type flysch sedimentation in external zone};
\node[ev] at (1280,260.6) {Deepening, anoxic environment};
\node[ev] at (1280,282) {Transgression over foreland in Alpine Molasse};
\node[ev] at (1280,303) {Deep-water flysch sedimentation in Magura};
\node[ev] at (1292,312.6) {Basin};
\node[ev] at (1282,441) {Laramide uplifting of foreland and};
\node[ev] at (1292,455) {intrabasinal ridges};
\node[ev] at (1283,542) {Deep-water flysch sedimentation in Silesian Basin};
\node[ev] at (1281,569) {Formation of Foreland Basin};
\node[ev] at (1281,585) {Transition from divergent to convergent setting};
\node[ev] at (1283,614) {Deep-water sedimentation, anoxic environment};
\node[ev] at (1283,672) {Further extension and deepening of};
\node[ev] at (1293,686) {passive margins};
\node[ev] at (1283,722) {Rifting and opening of passive continental};
\node[ev] at (1283,735) {margins with carbonate platform and basins};

%% ---------------- legend
\node[lg,anchor=east] at (595,790) {\sqz{LEGEND}};
\filldraw[fill=cyel,swatch] (604.3,784) rectangle (645.4,798);
\filldraw[fill=cgrn,swatch] (604.3,817) rectangle (645.4,831);
\filldraw[fill=cpch,swatch] (604.3,850) rectangle (645.4,864);
\filldraw[fill=cgry,swatch] (905.5,784) rectangle (945,798);
\filldraw[fill=ccarb,swatch] (905.5,817) rectangle (945,831);
\mystrip{(905.5,850) rectangle (945,864)}{cmarl}{cmarlS}{905.5}{6}{1.6}
\mystrip{(1082.2,785) rectangle (1123.2,799)}{canox}{canoxS}{1082.2}{7}{1.3}
\node[lg] at (655.7,785.5) {\sqz{continental to shallow marine}};
\node[lg] at (655.7,797.5) {\sqz{deposits, Molasse}};
\node[lg] at (655.7,824.5) {\sqz{hemipelagite deposits}};
\node[lg] at (655.7,857.5) {\sqz{deep-water flysch deposits}};
\node[lg] at (955,785.5) {\sqz{anoxic shaly/}};
\node[lg] at (955,797.5) {\sqz{siliceous facies}};
\node[lg] at (955,824.5) {\sqz{carbonates}};
\node[lg] at (955,857.5) {\sqz{marls}};
\node[lg] at (1135,793) {\sqz{anoxic marly facies}};
\mywave{1073}{1125}{819.6}
\node[lg] at (1135,820) {\sqz{transgression}};
\mydet{1073}{1125}{836}{1085,1100,1115}
\node[lg] at (1135,837) {\sqz{tectonic detachment}};
\foreach \ab/\full/\yy in {Fm/Formation/791,Mb./Member/807,Lm./Limestone/822.5,Ml./Marl/838,Ss./Sandstone/854.7,Sub./Subunit/870.5}
  {\node[lg,font=\fM] at (1315,\yy) {\sqz{\ab}}; \node[lg,font=\fM] at (1368,\yy) {\sqz{- \full}};}
\node[lg,font=\fM] at (1315,885.8) {\sqz{varieg.}};
\node[lg,font=\fM] at (1364,885.8) {\sqz{- variegated facies}};
\end{tikzpicture}
\end{document}
